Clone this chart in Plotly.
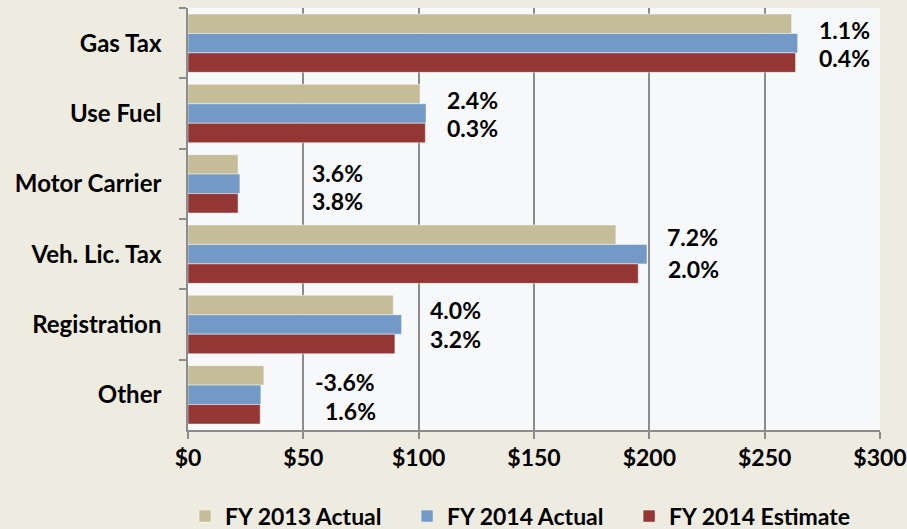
import plotly.graph_objects as go

categories = ["Gas Tax", "Use Fuel", "Motor Carrier", "Veh. Lic. Tax", "Registration", "Other"]
series_names = ["FY 2013 Actual", "FY 2014 Actual", "FY 2014 Estimate"]
fy2013_actual = [261.7, 100.6, 21.7, 185.5, 89.0, 32.9]
fy2014_actual = [264.3, 103.2, 22.5, 199.0, 92.6, 31.6]
fy2014_estimate = [263.4, 102.9, 21.7, 195.2, 89.7, 31.3]
colors = ["#C4BD97", "#7399C6", "#943634"]

# growth labels: (top text, bottom text) per category
growth_top = ["1.1%", "2.4%", "3.6%", "7.2%", "4.0%", "-3.6%"]
growth_bottom = ["0.4%", "0.3%", "3.8%", "2.0%", "3.2%", "1.6%"]

x_ticks = [0, 50, 100, 150, 200, 250, 300]
x_tick_labels = ["$0", "$50", "$100", "$150", "$200", "$250", "$300"]

FONT = "Lato"
FS = 23
FS_AX = 24

fig = go.Figure()
for name, vals, col in zip(series_names, [fy2013_actual, fy2014_actual, fy2014_estimate], colors):
    fig.add_trace(go.Bar(
        y=categories, x=vals, name=name, orientation="h",
        marker=dict(color=col, line=dict(color="rgba(255,255,255,0.6)", width=0.8)),
    ))

# annotation placement in pixels of the reference layout
top_pos = [(817, 30), (445, 100), (310, 173), (665, 237), (428, 310), (313, 382)]
bot_pos = [(817, 58), (445, 128), (310, 201), (666, 269), (428, 339), (323, 411)]
x0, x1, y0, y1 = 188, 880, 8, 430


def to_data_x(px):
    return (px - x0) / (x1 - x0) * 300


def to_paper_y(py):
    return (y1 - py) / (y1 - y0)


for txt, (px, py) in zip(growth_top + growth_bottom, top_pos + bot_pos):
    fig.add_annotation(
        x=to_data_x(px), y=to_paper_y(py), xref="x", yref="paper",
        text=txt, showarrow=False, xanchor="left", yanchor="middle",
        font=dict(family=FONT, size=FS, color="#000000", weight="bold"),
    )

fig.update_layout(
    width=907, height=529,
    margin=dict(l=188, r=27, t=8, b=99, autoexpand=False),
    paper_bgcolor="#EEEBE0",
    plot_bgcolor="#F7F8FA",
    barmode="group",
    bargap=0.17,
    bargroupgap=0,
    font=dict(family=FONT, size=FS, color="#000000", weight="bold"),
    legend=dict(
        orientation="h", x=0.477, xanchor="center", y=-0.204, yanchor="middle",
        font=dict(family=FONT, size=23, color="#000000", weight="bold"),
        bgcolor="rgba(0,0,0,0)", itemwidth=30, traceorder="normal",
        entrywidth=177,
    ),
    showlegend=True,
)
fig.update_xaxes(
    range=[0, 300], tickvals=x_ticks, ticktext=x_tick_labels,
    showgrid=True, gridcolor="#8C8C8C", gridwidth=1.5,
    showline=True, linecolor="#8C8C8C", linewidth=1.5,
    ticks="outside", ticklen=7, tickcolor="#8C8C8C", tickwidth=1.5,
    zeroline=False, fixedrange=True, ticklabeloverflow="allow",
    tickfont=dict(family=FONT, size=23, color="#000000", weight="bold"),
)
fig.update_yaxes(
    autorange="reversed", type="category", tickson="boundaries",
    showgrid=False, showline=True, linecolor="#8C8C8C", linewidth=1.5,
    ticks="outside", ticklen=7, tickcolor="#8C8C8C", tickwidth=1.5,
    ticklabelstandoff=20, fixedrange=True,
    tickfont=dict(family=FONT, size=FS_AX, color="#000000", weight="bold"),
)

fig.write_html(
    "out.html",
    config={"displayModeBar": False},
    post_script="document.body.style.margin='0';document.body.style.overflow='hidden';"
                "document.body.style.background='#EEEBE0';",
)
